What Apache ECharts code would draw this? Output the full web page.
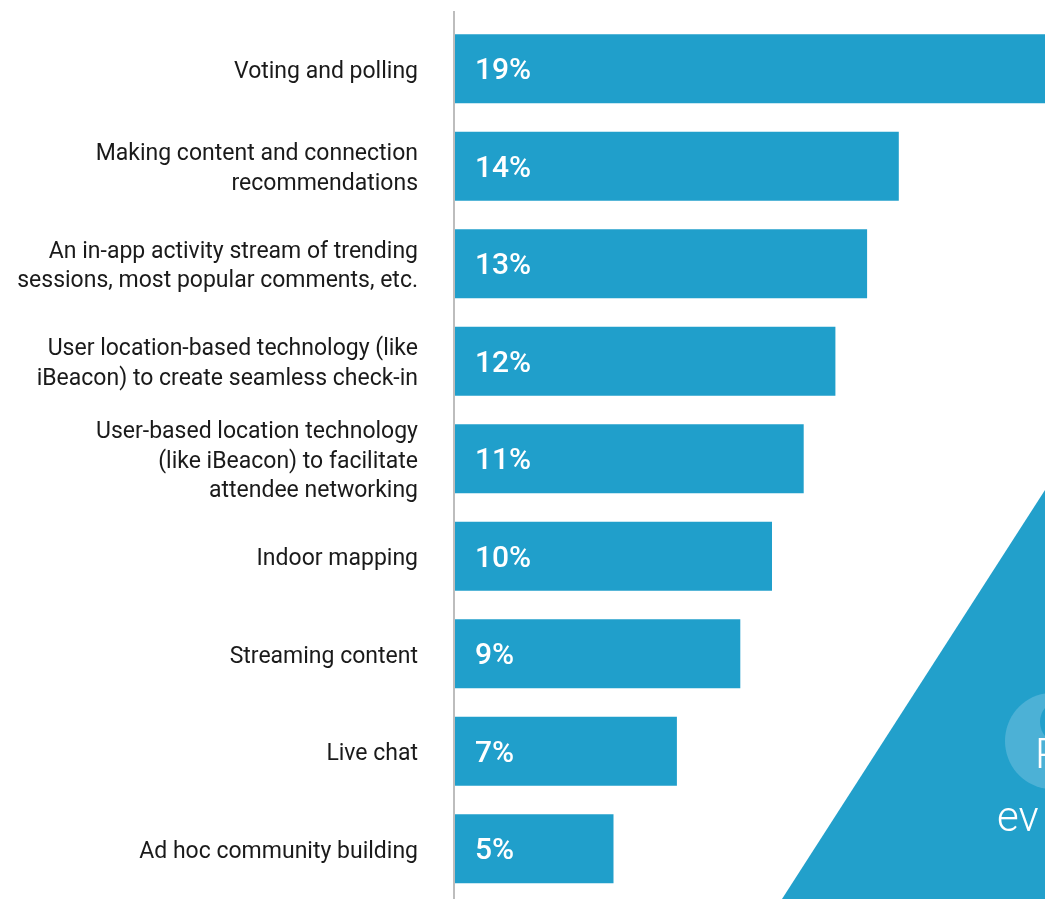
<!DOCTYPE html>
<html>
<head>
<meta charset="utf-8">
<script src="https://cdn.jsdelivr.net/npm/echarts@6/dist/echarts.min.js"></script>
<style>
  html, body { margin: 0; padding: 0; background: #ffffff; }
  #chart { width: 1045px; height: 899px; }
</style>
</head>
<body>
<div id="chart"></div>
<script>
// Features and share of respondents (%)
const categories = [
  'Voting and polling',
  'Making content and connection\nrecommendations',
  'An in-app activity stream of trending\nsessions, most popular comments, etc.',
  'User location-based technology (like\niBeacon) to create seamless check-in',
  'User-based location technology\n(like iBeacon) to facilitate\nattendee networking',
  'Indoor mapping',
  'Streaming content',
  'Live chat',
  'Ad hoc community building'
];
const values = [19, 14, 13, 12, 11, 10, 9, 7, 5];

const BLUE = '#209fcb';

const chart = echarts.init(document.getElementById('chart'), null, { renderer: 'canvas' });

chart.setOption({
  animation: false,
  backgroundColor: '#ffffff',
  // plot area runs past the right edge so the longest bar is cut off
  grid: {
    left: 455, width: 634, top: 20, height: 877.5,
    containLabel: false,
    outerBoundsMode: 'none'
  },
  xAxis: {
    type: 'value',
    min: 0,
    max: 20,
    show: false
  },
  yAxis: {
    type: 'category',
    data: categories,
    inverse: true,
    axisLine: { show: false },
    axisTick: { show: false },
    splitLine: { show: false },
    axisLabel: { show: false }
  },
  graphic: [
    // decorative corner panel with logo fragment
    {
      type: 'polygon',
      z: 0,
      shape: { points: [[782, 899], [1045, 490], [1045, 899]] },
      style: { fill: '#22a0cb' }
    },
    {
      type: 'ellipse',
      z: 1,
      shape: { cx: 1052, cy: 741, rx: 47, ry: 48 },
      style: { fill: '#4cb1d6' }
    },
    {
      type: 'circle',
      z: 1,
      shape: { cx: 1062, cy: 722, r: 22 },
      style: { fill: '#22a0cb' }
    },
    {
      type: 'text',
      z: 2,
      left: 1035,
      top: 736,
      style: { text: 'P', fill: '#ffffff', font: '300 42px Roboto' }
    },
    {
      type: 'text',
      z: 2,
      left: 997,
      top: 799,
      style: { text: 'ev', fill: '#ffffff', font: '300 42px Roboto' }
    },
    // vertical axis rule
    {
      type: 'line',
      z: 10,
      shape: { x1: 454, y1: 11, x2: 454, y2: 899 },
      style: { stroke: '#bdbdbd', lineWidth: 2 }
    }
  ],
  series: [
    {
      type: 'bar',
      data: values,
      barWidth: 69,
      itemStyle: { color: BLUE },
      label: {
        show: true,
        position: 'insideLeft',
        distance: 20,
        offset: [0, 3],
        formatter: '{c}%',
        color: '#ffffff',
        fontFamily: 'Roboto',
        fontWeight: 500,
        fontSize: 30
      }
    },
    {
      // zero-length companion bars that carry the category names on the left
      type: 'bar',
      data: categories.map(() => 0),
      barWidth: 69,
      barGap: '-100%',
      silent: true,
      itemStyle: { color: 'transparent' },
      label: {
        show: true,
        position: 'left',
        distance: 37,
        offset: [0, 3],
        align: 'right',
        formatter: (p) => categories[p.dataIndex],
        color: '#1a1a1a',
        fontFamily: 'Roboto',
        fontSize: 23,
        lineHeight: 29.5
      }
    }
  ]
});
</script>
</body>
</html>
